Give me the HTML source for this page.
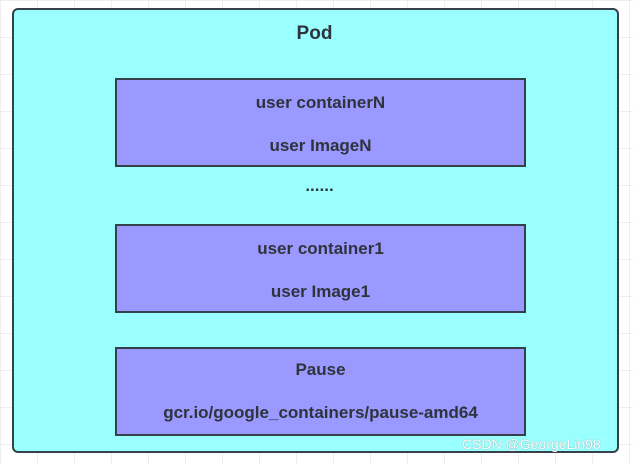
<!DOCTYPE html>
<html><head><style>
body{margin:0;width:633px;height:464px;background:#fff;position:relative;overflow:hidden;font-family:"Liberation Sans",sans-serif;}
.grid{position:absolute;inset:0;background-image:linear-gradient(#eee 1px,transparent 1px),linear-gradient(90deg,#eee 1px,transparent 1px);background-size:37px 37px;}
.outer{position:absolute;left:12px;top:8px;width:603px;height:441px;background:#99ffff;border:2px solid #36404a;border-radius:6px;}
.b{position:absolute;left:115px;width:407px;height:85px;background:#9999ff;border:2px solid #36404a;}
.t{position:absolute;width:100%;text-align:center;font-weight:bold;font-size:17px;color:#2e333c;left:0}
.wm{position:absolute;font-size:14px;color:#fff;text-shadow:0 0 1px #777;}
</style></head><body>
<div class="grid"></div>
<div class="outer"></div>
<div class="t" style="left:0;width:629px;top:23px;font-size:19px">Pod</div>
<div class="b" style="top:78px"><div class="t" style="top:13px">user containerN</div><div class="t" style="top:56px">user ImageN</div></div>
<div class="t" style="left:0;width:639px;top:176px">......</div>
<div class="b" style="top:224px"><div class="t" style="top:13px">user container1</div><div class="t" style="top:56px">user Image1</div></div>
<div class="b" style="top:347px"><div class="t" style="top:11px">Pause</div><div class="t" style="top:54px">gcr.io/google_containers/pause-amd64</div></div>
<div class="wm" style="left:462px;top:436px">CSDN @GeorgeLin98</div>
</body></html>
